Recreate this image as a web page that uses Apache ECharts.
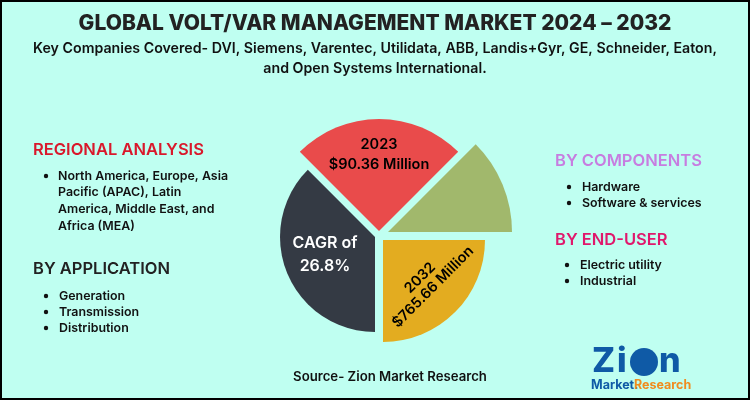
<!DOCTYPE html>
<html><head><meta charset="utf-8">
<style>html,body{margin:0;padding:0;background:#BFFFF1}#c{width:750px;height:400px}</style>
<script src="https://cdn.jsdelivr.net/npm/echarts@6/dist/echarts.min.js"></script></head>
<body><div id="c"></div>
<script>
const sliceNames = ['2023', 'Other', '2032', 'CAGR'];
const sliceAngles = [90, 45, 90, 135];
const sliceColors = ['#E94B4B', '#A1B86C', '#E3AC20', '#343A44'];
const sliceStarts = [135, 45, 0, 270];
const sliceCenters = [[379, 231], [388, 232], [383, 240], [375, 237]];
const sliceRadii = [112, 124, 102, 95];
const titleText = 'GLOBAL VOLT/VAR MANAGEMENT MARKET 2024 – 2032';
const subtitleLines = ['Key Companies Covered- DVI, Siemens, Varentec, Utilidata, ABB, Landis+Gyr, GE, Schneider, Eaton,', 'and Open Systems International.'];
const regional = ['North America, Europe, Asia', 'Pacific (APAC), Latin', 'America, Middle East, and', 'Africa (MEA)'];
const applications = ['Generation', 'Transmission', 'Distribution'];
const components = ['Hardware', 'Software & services'];
const endUsers = ['Electric utility', 'Industrial'];

const F = 'Inter, "Open Sans", sans-serif';
const g = [];
function text(x, y, t, size, color, weight, align, extra) {
  g.push(Object.assign({type:'text', x, y, silent:true, z:10,
    style:{text:t, fontFamily:F, fontSize:size, fontWeight:weight||600, fill:color||'#111', align:align||'left', verticalAlign:'middle'}}, extra||{}));
}
function bullets(list, xDot, xText, y0, step, size) {
  list.forEach((t,i)=>{
    g.push({type:'circle', shape:{cx:xDot, cy:y0+i*step, r:2.2}, style:{fill:'#111'}, silent:true, z:10});
    text(xText, y0+i*step, t, size, '#111', 600);
  });
}
text(375, 24, titleText, 21, '#222', 800, 'center');
text(375, 49, subtitleLines[0], 14.2, '#111', 600, 'center');
text(375, 69, subtitleLines[1], 14.2, '#111', 600, 'center');

text(33, 150, 'REGIONAL ANALYSIS', 16.5, '#D9182B', 600);
g.push({type:'circle', shape:{cx:46, cy:176, r:2.2}, style:{fill:'#111'}, silent:true, z:10});
regional.forEach((t,i)=>text(58, 176+i*16.7, t, 12.4, '#111', 600));
text(33, 269, 'BY APPLICATION', 16.5, '#222', 600);
bullets(applications, 46, 59, 296, 16, 12.4);

text(555, 161, 'BY COMPONENTS', 16.5, '#C77DE0', 600);
bullets(components, 569, 582, 187, 16, 12.4);
text(555, 240, 'BY END-USER', 16.5, '#E0186C', 600);
bullets(endUsers, 567, 580, 265, 16, 12.4);

text(379, 145, '2023', 14.5, '#000', 600, 'center');
text(379, 165, '$90.36 Million', 14.5, '#000', 600, 'center');
text(325, 243, 'CAGR of', 16, '#fff', 600, 'center');
text(325, 266, '26.8%', 16, '#fff', 600, 'center');
text(420, 280, '2032', 14.5, '#000', 600, 'center', {rotation:Math.PI/4, x:420, y:278});
text(433, 287, '$765.66 Million', 14.5, '#000', 600, 'center', {rotation:Math.PI/4});

text(390, 377, 'Source- Zion Market Research', 13.2, '#111', 600, 'center');

// logo
text(592, 362, 'Z', 34, '#0F5AA6', 800, 'left');
text(617, 362, 'i', 34, '#0F5AA6', 800, 'left');
g.push({type:'circle', shape:{cx:644, cy:362, r:14}, style:{fill:'#0F5AA6'}, silent:true, z:10});
text(659, 362, 'n', 34, '#0F5AA6', 800, 'left');
text(591, 385, 'Market.', 12.5, '#0F5AA6', 700);
text(634, 385, 'Research', 12.5, '#F08C1E', 700);

g.push({type:'rect', shape:{x:1,y:1,width:748,height:398}, style:{fill:'none', stroke:'#000', lineWidth:2}, silent:true, z:20});

const series = sliceNames.map((n,i)=>({
  type:'pie', name:n, silent:true, clockwise:true, startAngle:sliceStarts[i],
  center:sliceCenters[i], radius:[0,sliceRadii[i]], label:{show:false}, labelLine:{show:false},
  data:[{value:sliceAngles[i], itemStyle:{color:sliceColors[i]}},
        {value:360-sliceAngles[i], itemStyle:{color:'transparent'}}],
  animation:false
}));
const chart = echarts.init(document.getElementById('c'), null, {renderer:'canvas'});
chart.setOption({backgroundColor:'#BFFFF1', animation:false, series, graphic:g});
</script></body></html>
